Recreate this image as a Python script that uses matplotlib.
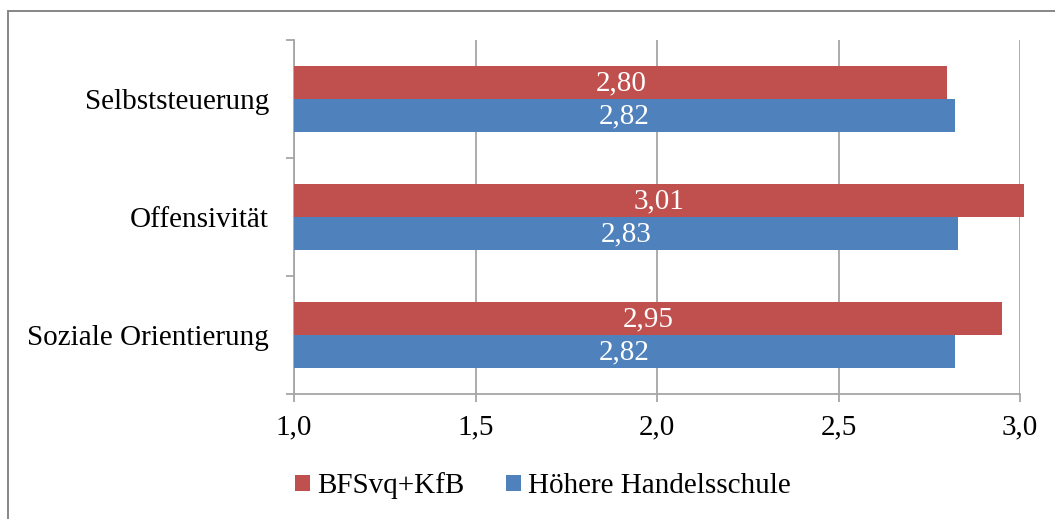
import matplotlib
matplotlib.use("Agg")
import matplotlib.pyplot as plt
from matplotlib.patches import Rectangle
import numpy as np

categories = ["Soziale Orientierung", "Offensivität", "Selbststeuerung"]
series_names = ["BFSvq+KfB", "Höhere Handelsschule"]
bfs_values = [2.95, 3.01, 2.80]
hhs_values = [2.82, 2.83, 2.82]
xticks = [1.0, 1.5, 2.0, 2.5, 3.0]

red = "#C0504D"
blue = "#4F81BD"
grid_c = "#A6A6A6"
fs = 21

plt.rcParams['font.family'] = ['Liberation Serif', 'DejaVu Serif']

fig = plt.figure(figsize=(10.55, 5.19), dpi=100)
ax = fig.add_axes([294/1055, 1 - 394/519, (1020-294)/1055, (394-40)/519])

y = np.arange(len(categories))
h = 0.28
left = 1.0
b1 = ax.barh(y + h/2, np.array(bfs_values) - left, left=left, height=h, color=red,
             label=series_names[0], clip_on=False, zorder=3)
b2 = ax.barh(y - h/2, np.array(hhs_values) - left, left=left, height=h, color=blue,
             label=series_names[1], clip_on=False, zorder=3)

for bars, vals in ((b1, bfs_values), (b2, hhs_values)):
    for rect, v in zip(bars, vals):
        ax.text(left + (v - left)/2, rect.get_y() + rect.get_height()/2 - 0.01,
                f"{v:.2f}".replace(".", ","), ha="center", va="center",
                color="white", fontsize=fs, zorder=4)

ax.set_xlim(1.0, 3.0)
ax.set_ylim(-0.5, len(categories) - 0.5)
ax.set_xticks(xticks)
ax.set_xticklabels([f"{t:.1f}".replace(".", ",") for t in xticks], fontsize=fs)
ax.set_yticks(y)
ax.set_yticklabels(categories, fontsize=fs)
ax.set_yticks(np.arange(-0.5, len(categories), 1.0), minor=True)
ax.tick_params(axis="y", which="major", length=0, pad=18)
ax.tick_params(axis="y", which="minor", length=6, color=grid_c, width=1.3)
ax.tick_params(axis="x", length=6, color=grid_c, width=1.3, pad=9)

ax.grid(axis="x", color=grid_c, linewidth=1.3, zorder=0)
ax.set_axisbelow(True)
for s in ["top", "right"]:
    ax.spines[s].set_visible(False)
ax.spines["left"].set_color(grid_c)
ax.spines["left"].set_linewidth(1.3)
ax.spines["bottom"].set_color(grid_c)
ax.spines["bottom"].set_linewidth(1.3)

leg = fig.legend(handles=[b1, b2], labels=series_names, loc="center",
                 bbox_to_anchor=(543/1055, 1 - 486/519), ncol=2, frameon=False,
                 fontsize=fs, handlelength=0.5, handleheight=0.5,
                 handletextpad=0.25, columnspacing=1.45)

fig.patches.append(Rectangle((8/1055, 1 - 530/519), (1070-8)/1055, (530-11)/519,
                             transform=fig.transFigure, fill=False,
                             edgecolor="#868686", linewidth=1.4, clip_on=False))

fig.savefig("out.png", dpi=100)
